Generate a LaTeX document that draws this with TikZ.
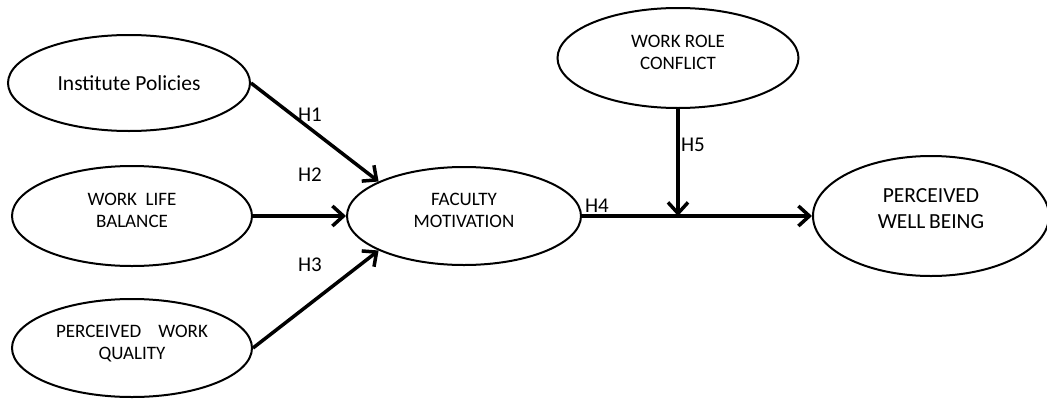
\documentclass[tikz,border=0pt]{standalone}
\usepackage{fontspec}
\setmainfont{Carlito}
\usetikzlibrary{shapes.geometric,arrows.meta}
\tikzset{
  oval/.style={ellipse, draw, line width=2pt, inner sep=0pt, align=center},
  smalltxt/.style={font=\fontsize{19}{22}\selectfont},
  bigtxt/.style={font=\fontsize{21.5}{26}\selectfont},
  hlab/.style={font=\fontsize{21}{25}\selectfont, inner sep=0pt},
  link/.style={line width=3.5pt, -{Straight Barb[length=11pt,width=20pt]}},
}
\begin{document}
\begin{tikzpicture}[x=1pt,y=-1pt]
\useasboundingbox (0,0) rectangle (1047,399);
\node[oval, bigtxt, minimum width=242, minimum height=96] (ip) at (129,83) {Institute Policies};
\node[oval, smalltxt, minimum width=240, minimum height=100] (wlb) at (132,216) {WORK\ \ LIFE\\BALANCE\\[-10pt]\mbox{}};
\node[oval, smalltxt, minimum width=240, minimum height=98] (pwq) at (132,348) {PERCEIVED\ \ \ \ WORK\\QUALITY\\[-10pt]\mbox{}};
\node[oval, smalltxt, minimum width=234, minimum height=98] (fm) at (464,216) {FACULTY\\MOTIVATION\\[-10pt]\mbox{}};
\node[oval, smalltxt, minimum width=241, minimum height=100] (wrc) at (678,58) {WORK ROLE\\CONFLICT\\[-10pt]\mbox{}};
\node[oval, bigtxt, minimum width=236, minimum height=120] (pwb) at (931,216) {PERCEIVED\\WELL\,BEING\\[-12pt]\mbox{}};
\coordinate (j) at (wrc.south |- fm.east);
\draw[link] (ip.east) -- (fm.158);
\draw[link] (wlb.east) -- (fm.west);
\draw[link] (pwq.east) -- (fm.202);
\draw[link] (fm.east) -- (pwb.west);
\draw[link] (wrc.south) -- (j);
\node[hlab] (h1) at (310,115) {H1};
\node[hlab] (h2) at (310,175) {H2};
\node[hlab] (h3) at (310,265) {H3};
\node[hlab] (h4) at (597,206) {H4};
\node[hlab] (h5) at (693,145) {H5};
\end{tikzpicture}
\end{document}
